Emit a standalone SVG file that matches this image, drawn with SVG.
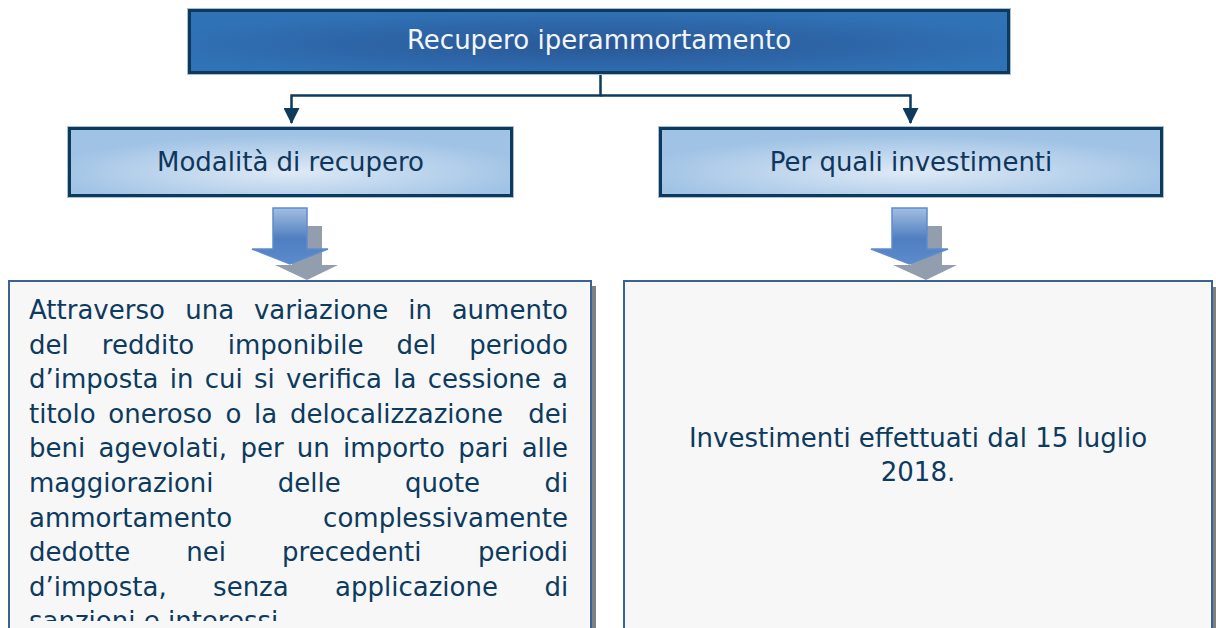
<svg xmlns="http://www.w3.org/2000/svg" width="1216" height="628" viewBox="0 0 1216 628">
<style>
  .t { font-family: "DejaVu Sans", Verdana, sans-serif; font-size: 26px; }
  .white { fill: #f2f6fa; }
  .navy { fill: #0f365c; }
  .body { fill: #0d3a5f; }
  .halo { fill: none; stroke: #a9bfd4; stroke-width: 1; }
  .frame { stroke: #0d3a5c; stroke-width: 3; }
  .panel { fill: #f7f7f7; stroke: #3a6294; stroke-width: 2; }
  .shadow { fill: #808080; }
  .conn { fill: none; stroke: #0e3a5e; stroke-width: 2.5; }
  .barrow { fill: url(#gArrow); stroke: #5f8ccb; stroke-width: 1.5; stroke-linejoin: miter; }
  .sarrow { fill: #929eae; }
</style>
<defs>
  <radialGradient id="gTop" cx="50%" cy="55%" r="55%">
    <stop offset="0" stop-color="#2a5796"/>
    <stop offset="1" stop-color="#3072b6"/>
  </radialGradient>
  <radialGradient id="gMid" cx="50%" cy="65%" r="55%">
    <stop offset="0" stop-color="#dfeaf6"/>
    <stop offset="1" stop-color="#9fc2e5"/>
  </radialGradient>
  <linearGradient id="gArrow" x1="0" y1="0" x2="0" y2="1">
    <stop offset="0" stop-color="#a3bee2"/>
    <stop offset="0.55" stop-color="#4f7fc0"/>
    <stop offset="1" stop-color="#5b8bcc"/>
  </linearGradient>
  <marker id="ah" viewBox="0 0 16 16" refX="15" refY="8" markerWidth="16" markerHeight="16" orient="auto" markerUnits="userSpaceOnUse">
    <path d="M0 0 L16 8 L0 16 z" fill="#0e3a5e"/>
  </marker>
  <clipPath id="clipL">
    <rect x="9" y="282" width="581" height="339"/>
  </clipPath>
</defs>

<rect width="1216" height="628" fill="#ffffff"/>

<g id="connectors">
  <path class="conn" d="M600.5 73 V95.5 H291.5 V123" marker-end="url(#ah)"/>
  <path class="conn" d="M600.5 95.5 H910.5 V123" marker-end="url(#ah)"/>
</g>

<g id="flow-arrows">
  <polygon class="sarrow" points="292,226 322,226 322,265 338,265 307,280 275,265 292,265"/>
  <polygon class="barrow" points="273,208 307,208 307,249 328,249 290,264 252,249 273,249"/>
  <polygon class="sarrow" points="911,226 942,226 942,265 957,265 926,280 893,265 911,265"/>
  <polygon class="barrow" points="892,208 927,208 927,249 948,249 909.5,264 871,249 892,249"/>
</g>

<g id="node-top">
  <rect class="halo" x="187.5" y="8.5" width="823" height="66"/>
  <rect class="frame" x="189.5" y="10.5" width="819" height="62" fill="url(#gTop)"/>
  <text class="t white" x="599" y="49" text-anchor="middle">Recupero iperammortamento</text>
</g>

<g id="node-modalita">
  <rect class="halo" x="67.5" y="126.5" width="446" height="71"/>
  <rect class="frame" x="69.5" y="128.5" width="442" height="67" fill="url(#gMid)"/>
  <text class="t navy" x="290.5" y="171" text-anchor="middle">Modalità di recupero</text>
</g>

<g id="node-investimenti">
  <rect class="halo" x="658.5" y="126.5" width="505" height="71"/>
  <rect class="frame" x="660.5" y="128.5" width="501" height="67" fill="url(#gMid)"/>
  <text class="t navy" x="911" y="171" text-anchor="middle">Per quali investimenti</text>
</g>

<g id="node-recupero-testo">
  <rect class="shadow" x="591" y="286" width="5" height="342"/>
  <rect class="panel" x="9" y="281" width="582" height="360"/>
  <g clip-path="url(#clipL)" class="t body">
    <text y="319"><tspan x="29">Attraverso</tspan><tspan x="185.2">una</tspan><tspan x="253.9">variazione</tspan><tspan x="408.2">in</tspan><tspan x="451.7">aumento</tspan></text>
    <text y="353.6"><tspan x="29">del</tspan><tspan x="101.8">reddito</tspan><tspan x="227.8">imponibile</tspan><tspan x="396.5">del</tspan><tspan x="469.2">periodo</tspan></text>
    <text y="388.2"><tspan x="29">d’imposta</tspan><tspan x="169.7">in</tspan><tspan x="204.7">cui</tspan><tspan x="254">si</tspan><tspan x="286.1">verifica</tspan><tspan x="393.3">la</tspan><tspan x="427.8">cessione</tspan><tspan x="552.1">a</tspan></text>
    <text y="422.8"><tspan x="29">titolo</tspan><tspan x="108.3">oneroso</tspan><tspan x="225.5">o</tspan><tspan x="254.1">la</tspan><tspan x="290.1">delocalizzazione</tspan><tspan x="528.3">dei</tspan></text>
    <text y="457.4"><tspan x="29">beni</tspan><tspan x="98.5">agevolati,</tspan><tspan x="240.4">per</tspan><tspan x="296.8">un</tspan><tspan x="343.1">importo</tspan><tspan x="458.2">pari</tspan><tspan x="521.7">alle</tspan></text>
    <text y="492"><tspan x="29">maggiorazioni</tspan><tspan x="277.8">delle</tspan><tspan x="405">quote</tspan><tspan x="544.4">di</tspan></text>
    <text y="526.6"><tspan x="29">ammortamento</tspan></text>
    <text y="526.6" x="568" text-anchor="end">complessivamente</text>
    <text y="561.2"><tspan x="29">dedotte</tspan><tspan x="186.3">nei</tspan><tspan x="282.1">precedenti</tspan><tspan x="478">periodi</tspan></text>
    <text y="595.8"><tspan x="29">d’imposta,</tspan><tspan x="213.1">senza</tspan><tspan x="335.1">applicazione</tspan><tspan x="544.4">di</tspan></text>
    <text y="630.4" x="29">sanzioni e interessi.</text>
  </g>
</g>

<g id="node-investimenti-testo">
  <rect class="shadow" x="1212" y="287" width="4" height="341"/>
  <rect class="panel" x="624" y="281" width="588" height="360"/>
  <text class="t body" x="918" y="446.7" text-anchor="middle">Investimenti effettuati dal 15 luglio</text>
  <text class="t body" x="918" y="481.3" text-anchor="middle">2018.</text>
</g>
</svg>
